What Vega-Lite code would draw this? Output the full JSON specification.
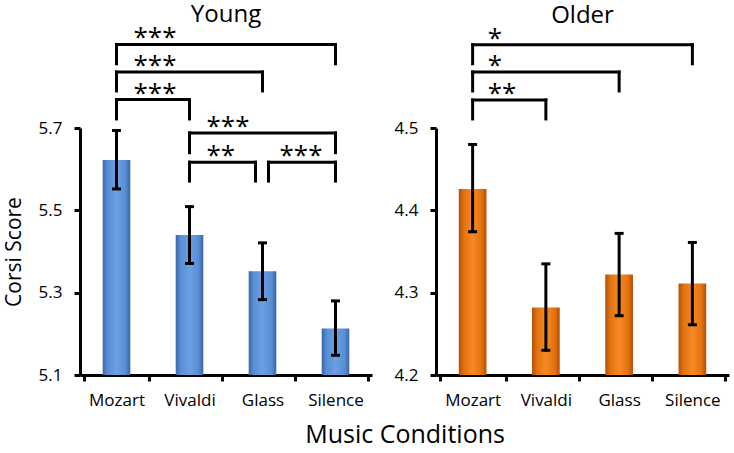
{
  "$schema": "https://vega.github.io/schema/vega-lite/v6.json",
  "padding": {"left": 3, "top": 3, "right": 5, "bottom": 5},
  "title": {"text": "Music Conditions", "orient": "bottom", "anchor": "middle", "fontSize": 25, "fontWeight": "normal", "offset": 15, "dx": 39, "color": "black"},
  "spacing": 22,
  "datasets": {
    "bars": [
      {"panel": "Young", "cond": "Mozart", "mean": 5.622, "lo": 5.552, "hi": 5.694},
      {"panel": "Young", "cond": "Vivaldi", "mean": 5.44, "lo": 5.371, "hi": 5.509},
      {"panel": "Young", "cond": "Glass", "mean": 5.352, "lo": 5.283, "hi": 5.421},
      {"panel": "Young", "cond": "Silence", "mean": 5.213, "lo": 5.148, "hi": 5.28},
      {"panel": "Older", "cond": "Mozart", "mean": 4.426, "lo": 4.374, "hi": 4.48},
      {"panel": "Older", "cond": "Vivaldi", "mean": 4.282, "lo": 4.23, "hi": 4.335},
      {"panel": "Older", "cond": "Glass", "mean": 4.322, "lo": 4.272, "hi": 4.372},
      {"panel": "Older", "cond": "Silence", "mean": 4.311, "lo": 4.261, "hi": 4.361}
    ],
    "brackets": [
      {"panel": "Young", "from": "Mozart", "to": "Silence", "top": 5.903, "bottom": 5.856, "label": "***"},
      {"panel": "Young", "from": "Mozart", "to": "Glass", "top": 5.836, "bottom": 5.79, "label": "***"},
      {"panel": "Young", "from": "Mozart", "to": "Vivaldi", "top": 5.769, "bottom": 5.722, "label": "***"},
      {"panel": "Young", "from": "Vivaldi", "to": "Silence", "top": 5.688, "bottom": 5.64, "label": "***"},
      {"panel": "Young", "from": "Vivaldi", "to": "Glass", "top": 5.617, "bottom": 5.571, "label": "**"},
      {"panel": "Young", "from": "Glass", "to": "Silence", "top": 5.617, "bottom": 5.571, "label": "***"},
      {"panel": "Older", "from": "Mozart", "to": "Silence", "top": 4.601, "bottom": 4.578, "label": "*"},
      {"panel": "Older", "from": "Mozart", "to": "Glass", "top": 4.568, "bottom": 4.545, "label": "*"},
      {"panel": "Older", "from": "Mozart", "to": "Vivaldi", "top": 4.534, "bottom": 4.511, "label": "**"}
    ]
  },
  "hconcat": [
    {
      "width": 292,
      "height": 247,
      "title": {"text": "Young", "offset": -2},
      "layer": [
        {
          "data": {"name": "bars"},
          "transform": [{"filter": "datum.panel === 'Young'"}],
          "mark": {"type": "bar", "clip": false, "width": {"band": 0.42}, "fill": {"gradient": "linear", "x1": 0, "x2": 1, "y1": 0, "y2": 0, "stops": [{"offset": 0, "color": "#3A66A8"}, {"offset": 0.18, "color": "#5A8ED4"}, {"offset": 0.5, "color": "#6CA0E4"}, {"offset": 0.82, "color": "#5A8ED4"}, {"offset": 1, "color": "#3A66A8"}]}},
          "encoding": {
            "x": {"field": "cond", "type": "nominal", "scale": {"domain": ["Mozart", "Vivaldi", "Glass", "Silence"]}, "title": null, "axis": {"tickBand": "extent", "labelAngle": 0, "labelPadding": 11}},
            "y": {"field": "mean", "type": "quantitative", "scale": {"domain": [5.1, 5.7], "nice": false, "zero": false}, "title": "Corsi Score", "axis": {"values": [5.1, 5.3, 5.5, 5.7], "format": ".1f", "labelPadding": 12, "titlePadding": 14, "titleFontSize": 21, "titleFontWeight": "normal"}},
            "y2": {"datum": 5.1}
          }
        },
        {
          "data": {"name": "bars"},
          "transform": [{"filter": "datum.panel === 'Young'"}],
          "mark": {"type": "rule", "clip": false, "strokeWidth": 3, "color": "black"},
          "encoding": {
            "x": {"field": "cond", "type": "nominal", "title": null},
            "y": {"field": "lo", "type": "quantitative", "title": "Corsi Score"},
            "y2": {"field": "hi"}
          }
        },
        {
          "data": {"name": "bars"},
          "transform": [{"filter": "datum.panel === 'Young'"}],
          "mark": {"type": "tick", "clip": false, "orient": "horizontal", "size": 9, "thickness": 3, "color": "black", "opacity": 1},
          "encoding": {
            "x": {"field": "cond", "type": "nominal", "title": null},
            "y": {"field": "lo", "type": "quantitative", "title": "Corsi Score"}
          }
        },
        {
          "data": {"name": "bars"},
          "transform": [{"filter": "datum.panel === 'Young'"}],
          "mark": {"type": "tick", "clip": false, "orient": "horizontal", "size": 9, "thickness": 3, "color": "black", "opacity": 1},
          "encoding": {
            "x": {"field": "cond", "type": "nominal", "title": null},
            "y": {"field": "hi", "type": "quantitative", "title": "Corsi Score"}
          }
        },
        {
          "data": {"name": "brackets"},
          "transform": [{"filter": "datum.panel === 'Young' && datum.from !== 'Glass' && !(datum.from === 'Vivaldi' && datum.to === 'Glass')"}],
          "mark": {"type": "rule", "clip": false, "strokeWidth": 3, "color": "black", "strokeCap": "square"},
          "encoding": {
            "x": {"field": "from", "type": "nominal", "title": null},
            "x2": {"field": "to"},
            "y": {"field": "top", "type": "quantitative", "title": "Corsi Score"}
          }
        },
        {
          "data": {"name": "brackets"},
          "transform": [{"filter": "datum.panel === 'Young' && datum.from !== 'Glass'"}],
          "mark": {"type": "rule", "clip": false, "strokeWidth": 3, "color": "black", "strokeCap": "square"},
          "encoding": {
            "x": {"field": "from", "type": "nominal", "title": null},
            "y": {"field": "top", "type": "quantitative", "title": "Corsi Score"},
            "y2": {"field": "bottom"}
          }
        },
        {
          "data": {"name": "brackets"},
          "transform": [{"filter": "datum.panel === 'Young' && !(datum.from === 'Vivaldi' && datum.to === 'Glass')"}],
          "mark": {"type": "rule", "clip": false, "strokeWidth": 3, "color": "black", "strokeCap": "square"},
          "encoding": {
            "x": {"field": "to", "type": "nominal", "title": null},
            "y": {"field": "top", "type": "quantitative", "title": "Corsi Score"},
            "y2": {"field": "bottom"}
          }
        },
        {
          "data": {"name": "brackets"},
          "transform": [{"filter": "datum.panel === 'Young' && datum.from === 'Vivaldi' && datum.to === 'Glass'"}],
          "mark": {"type": "rule", "clip": false, "strokeWidth": 3, "color": "black", "strokeCap": "square", "x2Offset": -7},
          "encoding": {
            "x": {"field": "from", "type": "nominal", "title": null},
            "x2": {"field": "to"},
            "y": {"field": "top", "type": "quantitative", "title": "Corsi Score"}
          }
        },
        {
          "data": {"name": "brackets"},
          "transform": [{"filter": "datum.panel === 'Young' && datum.from === 'Vivaldi' && datum.to === 'Glass'"}],
          "mark": {"type": "rule", "clip": false, "strokeWidth": 3, "color": "black", "strokeCap": "square", "xOffset": -7},
          "encoding": {
            "x": {"field": "to", "type": "nominal", "title": null},
            "y": {"field": "top", "type": "quantitative", "title": "Corsi Score"},
            "y2": {"field": "bottom"}
          }
        },
        {
          "data": {"name": "brackets"},
          "transform": [{"filter": "datum.panel === 'Young' && datum.from === 'Glass'"}],
          "mark": {"type": "rule", "clip": false, "strokeWidth": 3, "color": "black", "strokeCap": "square", "xOffset": 6},
          "encoding": {
            "x": {"field": "from", "type": "nominal", "title": null},
            "x2": {"field": "to"},
            "y": {"field": "top", "type": "quantitative", "title": "Corsi Score"}
          }
        },
        {
          "data": {"name": "brackets"},
          "transform": [{"filter": "datum.panel === 'Young' && datum.from === 'Glass'"}],
          "mark": {"type": "rule", "clip": false, "strokeWidth": 3, "color": "black", "strokeCap": "square", "xOffset": 6},
          "encoding": {
            "x": {"field": "from", "type": "nominal", "title": null},
            "y": {"field": "top", "type": "quantitative", "title": "Corsi Score"},
            "y2": {"field": "bottom"}
          }
        },
        {
          "data": {"name": "brackets"},
          "transform": [{"filter": "datum.panel === 'Young'"}],
          "mark": {"type": "text", "clip": false, "align": "left", "baseline": "alphabetic", "dx": 17, "dy": 2, "fontSize": 26, "color": "black"},
          "encoding": {
            "x": {"field": "from", "type": "nominal", "title": null},
            "y": {"field": "top", "type": "quantitative", "title": "Corsi Score"},
            "text": {"field": "label"}
          }
        }
      ]
    },
    {
      "width": 293,
      "height": 247,
      "title": {"text": "Older", "offset": -2},
      "layer": [
        {
          "data": {"name": "bars"},
          "transform": [{"filter": "datum.panel === 'Older'"}],
          "mark": {"type": "bar", "clip": false, "width": {"band": 0.42}, "fill": {"gradient": "linear", "x1": 0, "x2": 1, "y1": 0, "y2": 0, "stops": [{"offset": 0, "color": "#B44F06"}, {"offset": 0.18, "color": "#E3720E"}, {"offset": 0.5, "color": "#F58A24"}, {"offset": 0.82, "color": "#E3720E"}, {"offset": 1, "color": "#B44F06"}]}},
          "encoding": {
            "x": {"field": "cond", "type": "nominal", "scale": {"domain": ["Mozart", "Vivaldi", "Glass", "Silence"]}, "title": null, "axis": {"tickBand": "extent", "labelAngle": 0, "labelPadding": 11}},
            "y": {"field": "mean", "type": "quantitative", "scale": {"domain": [4.2, 4.5], "nice": false, "zero": false}, "title": null, "axis": {"values": [4.2, 4.3, 4.4, 4.5], "format": ".1f", "labelPadding": 12}},
            "y2": {"datum": 4.2}
          }
        },
        {
          "data": {"name": "bars"},
          "transform": [{"filter": "datum.panel === 'Older'"}],
          "mark": {"type": "rule", "clip": false, "strokeWidth": 3, "color": "black"},
          "encoding": {
            "x": {"field": "cond", "type": "nominal", "title": null},
            "y": {"field": "lo", "type": "quantitative", "title": null},
            "y2": {"field": "hi"}
          }
        },
        {
          "data": {"name": "bars"},
          "transform": [{"filter": "datum.panel === 'Older'"}],
          "mark": {"type": "tick", "clip": false, "orient": "horizontal", "size": 9, "thickness": 3, "color": "black", "opacity": 1},
          "encoding": {
            "x": {"field": "cond", "type": "nominal", "title": null},
            "y": {"field": "lo", "type": "quantitative", "title": null}
          }
        },
        {
          "data": {"name": "bars"},
          "transform": [{"filter": "datum.panel === 'Older'"}],
          "mark": {"type": "tick", "clip": false, "orient": "horizontal", "size": 9, "thickness": 3, "color": "black", "opacity": 1},
          "encoding": {
            "x": {"field": "cond", "type": "nominal", "title": null},
            "y": {"field": "hi", "type": "quantitative", "title": null}
          }
        },
        {
          "data": {"name": "brackets"},
          "transform": [{"filter": "datum.panel === 'Older'"}],
          "mark": {"type": "rule", "clip": false, "strokeWidth": 3, "color": "black", "strokeCap": "square"},
          "encoding": {
            "x": {"field": "from", "type": "nominal", "title": null},
            "x2": {"field": "to"},
            "y": {"field": "top", "type": "quantitative", "title": null}
          }
        },
        {
          "data": {"name": "brackets"},
          "transform": [{"filter": "datum.panel === 'Older'"}],
          "mark": {"type": "rule", "clip": false, "strokeWidth": 3, "color": "black", "strokeCap": "square"},
          "encoding": {
            "x": {"field": "from", "type": "nominal", "title": null},
            "y": {"field": "top", "type": "quantitative", "title": null},
            "y2": {"field": "bottom"}
          }
        },
        {
          "data": {"name": "brackets"},
          "transform": [{"filter": "datum.panel === 'Older'"}],
          "mark": {"type": "rule", "clip": false, "strokeWidth": 3, "color": "black", "strokeCap": "square"},
          "encoding": {
            "x": {"field": "to", "type": "nominal", "title": null},
            "y": {"field": "top", "type": "quantitative", "title": null},
            "y2": {"field": "bottom"}
          }
        },
        {
          "data": {"name": "brackets"},
          "transform": [{"filter": "datum.panel === 'Older'"}],
          "mark": {"type": "text", "clip": false, "align": "left", "baseline": "alphabetic", "dx": 15, "dy": 2, "fontSize": 26, "color": "black"},
          "encoding": {
            "x": {"field": "from", "type": "nominal", "title": null},
            "y": {"field": "top", "type": "quantitative", "title": null},
            "text": {"field": "label"}
          }
        }
      ]
    }
  ],
  "config": {
    "font": "Open Sans",
    "view": {"stroke": null},
    "axis": {"domainColor": "black", "domainWidth": 3, "tickColor": "black", "tickWidth": 3, "tickSize": 6, "labelColor": "black", "labelFontSize": 17, "grid": false, "titleColor": "black"},
    "title": {"fontSize": 24, "fontWeight": "normal", "color": "black"}
  }
}
